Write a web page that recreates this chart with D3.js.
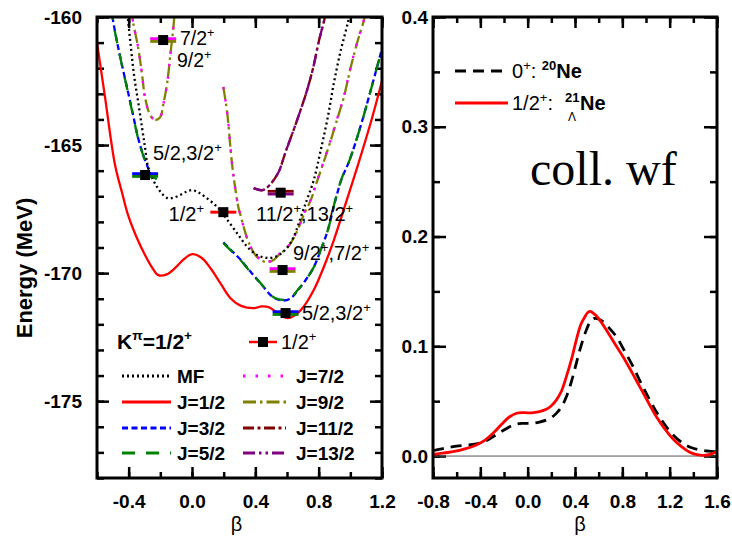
<!DOCTYPE html>
<html>
<head>
<meta charset="utf-8">
<script src="https://cdn.jsdelivr.net/npm/d3@7"></script>
<style>
  body { margin: 0; background: #fff; }
  svg { display: block; }
</style>
</head>
<body>
<svg id="chart" width="732" height="536"></svg>
<script>
// ---------- tick values ----------
const energyMajor = [-175, -170, -165, -160];
const betaMajorL = [-0.4, 0.0, 0.4, 0.8, 1.2];
const betaMajorR = [-0.8, -0.4, 0.0, 0.4, 0.8, 1.2, 1.6];
const wfMajor = [0.0, 0.1, 0.2, 0.3, 0.4];

// ---------- energy surfaces E(beta), MeV ----------
const mfCurve = [[-0.415,-159.5],[-0.404,-160.12],[-0.366,-162.27],[-0.34,-163.32],[-0.315,-164.34],[-0.296,-165.12],
  [-0.277,-165.86],[-0.22,-166.64],[-0.156,-167.07],[-0.115,-167.05],[-0.074,-166.95],[-0.035,-166.82],[0.002,-166.76],
  [0.04,-166.85],[0.084,-167.03],[0.16,-167.42],[0.224,-167.93],[0.294,-168.52],[0.35,-168.98],[0.414,-169.30],
  [0.484,-169.41],[0.547,-169.30],[0.604,-168.98],[0.642,-168.59],[0.699,-167.6],[0.731,-167.05],[0.769,-166.37],
  [0.813,-165.2],[0.858,-163.9],[0.896,-162.58],[0.94,-161.29],[0.984,-160.23],[1.0,-159.7]];

const j1Curve = [[-0.6,-161.0],[-0.55,-163.1],[-0.486,-165.78],[-0.44,-166.9],[-0.404,-167.73],[-0.35,-168.6],
  [-0.296,-169.30],[-0.25,-169.8],[-0.213,-170.08],[-0.16,-170.05],[-0.106,-169.80],[-0.05,-169.45],[0.002,-169.26],
  [0.06,-169.4],[0.116,-169.80],[0.18,-170.4],[0.243,-170.98],[0.31,-171.28],[0.389,-171.37],[0.44,-171.3],
  [0.484,-171.33],[0.54,-171.55],[0.604,-171.76],[0.65,-171.65],[0.70,-171.35],[0.769,-170.66],[0.83,-169.8],
  [0.896,-168.71],[0.97,-167.3],[1.048,-165.78],[1.13,-164.1],[1.2,-162.5]];

const j3Left = [[-0.51,-159.6],[-0.499,-160.12],[-0.473,-160.98],[-0.442,-161.88],[-0.404,-162.93],[-0.372,-163.83],
  [-0.34,-164.73],[-0.308,-165.39],[-0.283,-165.8],[-0.262,-166.15]];
const j3Right = [[0.198,-168.8],[0.256,-169.16],[0.306,-169.47],[0.37,-169.95],[0.433,-170.4],[0.515,-170.95],
  [0.579,-171.07],[0.623,-170.99],[0.667,-170.68],[0.718,-170.27],[0.769,-169.77],[0.813,-169.1],[0.858,-168.32],
  [0.908,-167.1],[0.946,-166.3],[0.991,-165.66],[1.067,-164.22],[1.143,-162.54],[1.206,-161.1]];

const j5Left = [[-0.51,-159.6],[-0.499,-160.14],[-0.473,-161.0],[-0.442,-161.9],[-0.404,-162.95],[-0.372,-163.85],
  [-0.34,-164.75],[-0.308,-165.41],[-0.283,-165.82],[-0.264,-166.17],[-0.232,-166.3],[-0.2,-166.45]];
const j5Right = [[0.198,-168.83],[0.256,-169.18],[0.306,-169.49],[0.37,-169.96],[0.433,-170.39],[0.515,-170.94],
  [0.579,-171.05],[0.623,-170.98],[0.667,-170.66],[0.718,-170.27],[0.769,-169.77],[0.813,-169.1],[0.858,-168.32],
  [0.908,-167.07],[0.946,-166.29],[0.991,-165.66],[1.067,-164.22],[1.143,-162.54],[1.206,-161.1]];

const j7Left = [[-0.385,-159.6],[-0.372,-160.2],[-0.34,-161.2],[-0.315,-162.27],[-0.296,-163.16],[-0.264,-163.83],
  [-0.232,-164.02],[-0.2,-163.9],[-0.182,-163.44],[-0.156,-162.54],[-0.137,-161.48],[-0.118,-160.43],[-0.108,-159.7]];
const j7Right = [[0.198,-162.73],[0.224,-163.83],[0.243,-165.12],[0.256,-165.9],[0.275,-166.76],[0.294,-167.46],
  [0.306,-167.73],[0.332,-168.32],[0.357,-168.79],[0.401,-169.28],[0.446,-169.52],[0.477,-169.56],[0.515,-169.48],
  [0.547,-169.28],[0.61,-168.93],[0.661,-168.38],[0.705,-167.7],[0.75,-167.12],[0.788,-166.42],[0.832,-165.63],
  [0.877,-164.77],[0.921,-163.88],[0.959,-163.1],[1.003,-161.92],[1.048,-160.87],[1.086,-160.1],[1.1,-159.6]];

const j9Left = [[-0.385,-159.6],[-0.372,-160.2],[-0.34,-161.2],[-0.315,-162.27],[-0.296,-163.16],[-0.264,-163.83],
  [-0.232,-164.02],[-0.2,-163.9],[-0.182,-163.44],[-0.156,-162.54],[-0.137,-161.48],[-0.118,-160.43],[-0.108,-159.7]];
const j9Right = [[0.198,-162.73],[0.224,-163.83],[0.243,-165.12],[0.256,-165.9],[0.275,-166.76],[0.294,-167.46],
  [0.306,-167.73],[0.332,-168.32],[0.357,-168.79],[0.401,-169.30],[0.446,-169.53],[0.477,-169.57],[0.515,-169.49],
  [0.547,-169.30],[0.61,-168.95],[0.661,-168.40],[0.705,-167.73],[0.75,-167.15],[0.788,-166.45],[0.832,-165.66],
  [0.877,-164.80],[0.921,-163.91],[0.959,-163.13],[1.003,-161.95],[1.048,-160.90],[1.086,-160.12],[1.1,-159.6]];

const j11Curve = [[0.389,-166.68],[0.446,-166.76],[0.496,-166.52],[0.547,-166.05],[0.591,-165.27],[0.642,-164.41],
  [0.686,-163.63],[0.731,-162.77],[0.769,-161.88],[0.80,-160.98],[0.832,-160.2],[0.851,-159.73]];
const j13Curve = [[0.389,-166.68],[0.446,-166.76],[0.496,-166.52],[0.547,-166.05],[0.591,-165.27],[0.642,-164.41],
  [0.686,-163.63],[0.731,-162.77],[0.769,-161.88],[0.80,-160.98],[0.832,-160.2],[0.851,-159.73]];

// ---------- GCM levels ----------
const levelBeta = [-0.182, -0.296, 0.198, 0.56, 0.572, 0.591];
const levelE = [-160.9, -166.17, -167.62, -166.86, -169.88, -171.56];
const levelJ = [["7/2","9/2"], ["3/2","5/2"], ["1/2"], ["11/2","13/2"], ["7/2","9/2"], ["3/2","5/2"]];

// ---------- collective wave functions ----------
const ne21Wf = [[-0.8,0.0016],[-0.72,0.0026],[-0.631,0.004],[-0.53,0.0065],[-0.434,0.0101],[-0.36,0.0145],
  [-0.293,0.0207],[-0.22,0.029],[-0.152,0.0358],[-0.1,0.0388],[-0.05,0.0396],[0.0,0.0394],[0.05,0.0396],[0.1,0.0405],
  [0.158,0.0426],[0.2,0.0458],[0.242,0.051],[0.285,0.059],[0.327,0.0723],[0.37,0.088],[0.411,0.1057],[0.45,0.12],
  [0.482,0.1266],[0.51,0.131],[0.53,0.1318],[0.55,0.1305],[0.58,0.1278],[0.62,0.1222],[0.665,0.1148],[0.73,0.1035],
  [0.806,0.0905],[0.88,0.0765],[0.947,0.0632],[1.02,0.0488],[1.088,0.0358],[1.16,0.0245],[1.229,0.0155],[1.3,0.0085],
  [1.37,0.0034],[1.43,0.0012],[1.49,0.0006],[1.55,0.0018],[1.6,0.0042]];
const ne20Wf = [[-0.8,0.005],[-0.715,0.0068],[-0.63,0.0085],[-0.53,0.0098],[-0.434,0.011],[-0.36,0.0135],
  [-0.293,0.0176],[-0.22,0.0225],[-0.152,0.0267],[-0.1,0.029],[-0.05,0.0298],[0.0,0.0297],[0.045,0.0298],[0.1,0.031],
  [0.158,0.0328],[0.2,0.035],[0.242,0.0389],[0.285,0.0447],[0.327,0.0541],[0.37,0.068],[0.411,0.0845],[0.45,0.1],
  [0.496,0.1148],[0.53,0.1225],[0.567,0.1255],[0.6,0.1248],[0.637,0.1224],[0.69,0.1165],[0.75,0.1087],[0.82,0.0955],
  [0.891,0.0814],[0.96,0.066],[1.032,0.0511],[1.1,0.038],[1.172,0.0267],[1.24,0.018],[1.313,0.0116],[1.38,0.0078],
  [1.454,0.0055],[1.53,0.0045],[1.6,0.004]];

// ---------- styles ----------
const style = {
  "MF":   {color: "#000000", dash: "2,3"},
  "1/2":  {color: "#ff0000", dash: null},
  "3/2":  {color: "#0000ff", dash: "6,3.5"},
  "5/2":  {color: "#008000", dash: "13,11"},
  "7/2":  {color: "#ff00ff", dash: "2.5,10"},
  "9/2":  {color: "#808000", dash: "13,4,2.5,4"},
  "11/2": {color: "#800000", dash: "11,3.5,3,3.5"},
  "13/2": {color: "#800080", dash: "12,4,2.5,4,2.5,4"}
};

// drawing order: later entries sit on top
const series = [
  {key: "1/2", segs: [j1Curve]},
  {key: "3/2", segs: [j3Left, j3Right]},
  {key: "5/2", segs: [j5Left, j5Right]},
  {key: "9/2", segs: [j9Left, j9Right]},
  {key: "7/2", segs: [j7Left, j7Right]},
  {key: "11/2", segs: [j11Curve]},
  {key: "13/2", segs: [j13Curve]},
  {key: "MF", segs: [mfCurve]}
];

const FONT = "'Liberation Sans', Arial, Helvetica, sans-serif";
const svg = d3.select("#chart").attr("font-family", FONT);

// ---------- layout ----------
const L = {x0: 97, x1: 382, y0: 17, y1: 478};
const R = {x0: 433, x1: 717, y0: 17, y1: 478};

const xL = d3.scaleLinear().domain([-0.6, 1.2]).range([L.x0, L.x1]);
const yL = d3.scaleLinear().domain([-178, -160]).range([L.y1, L.y0]);
const xR = d3.scaleLinear().domain([-0.8, 1.6]).range([R.x0, R.x1]);
const yR = d3.scaleLinear().domain([-0.02, 0.4]).range([R.y1, R.y0]);

const defs = svg.append("defs");
defs.append("clipPath").attr("id", "clipL").append("rect")
  .attr("x", L.x0).attr("y", L.y0).attr("width", L.x1 - L.x0).attr("height", L.y1 - L.y0);
defs.append("clipPath").attr("id", "clipR").append("rect")
  .attr("x", R.x0).attr("y", R.y0).attr("width", R.x1 - R.x0).attr("height", R.y1 - R.y0);

// plain hyphen-minus for negative tick labels
const fmt = f => v => d3.format(f)(v).replace("\u2212", "-");

// ---------- axes helper ----------
function addAxis(axis, tx, ty) {
  const g = svg.append("g").attr("transform", `translate(${tx},${ty})`).call(axis);
  g.select(".domain").remove();
  g.selectAll(".tick line").attr("stroke", "#000").attr("stroke-width", 2.5);
  g.selectAll(".tick text").attr("fill", "#000").attr("font-size", 19)
    .attr("font-weight", "bold").attr("font-family", FONT);
  return g;
}
const minorE = d3.range(-178, -159.5, 1);
const minorBL = d3.range(-0.6, 1.21, 0.2).map(v => +v.toFixed(2));
const minorBR = d3.range(-0.8, 1.61, 0.2).map(v => +v.toFixed(2));
const minorWf = d3.range(0, 0.401, 0.05).map(v => +v.toFixed(2));

// left panel
addAxis(d3.axisLeft(yL).tickValues(minorE).tickSize(-7).tickFormat(""), L.x0, 0);
addAxis(d3.axisLeft(yL).tickValues(energyMajor).tickSize(-12).tickPadding(15).tickFormat(fmt("d")), L.x0, 0);
addAxis(d3.axisRight(yL).tickValues(minorE).tickSize(-7).tickFormat(""), L.x1, 0);
addAxis(d3.axisRight(yL).tickValues(energyMajor).tickSize(-12).tickFormat(""), L.x1, 0);
addAxis(d3.axisBottom(xL).tickValues(minorBL).tickSize(-6).tickFormat(""), 0, L.y1);
addAxis(d3.axisBottom(xL).tickValues(betaMajorL).tickSize(-11).tickPadding(17).tickFormat(fmt(".1f")), 0, L.y1);
addAxis(d3.axisTop(xL).tickValues(minorBL).tickSize(-6).tickFormat(""), 0, L.y0);
addAxis(d3.axisTop(xL).tickValues(betaMajorL).tickSize(-11).tickFormat(""), 0, L.y0);

// right panel
addAxis(d3.axisLeft(yR).tickValues(minorWf).tickSize(-7).tickFormat(""), R.x0, 0);
addAxis(d3.axisLeft(yR).tickValues(wfMajor).tickSize(-13).tickPadding(5).tickFormat(fmt(".1f")), R.x0, 0);
addAxis(d3.axisRight(yR).tickValues(minorWf).tickSize(-7).tickFormat(""), R.x1, 0);
addAxis(d3.axisRight(yR).tickValues(wfMajor).tickSize(-13).tickFormat(""), R.x1, 0);
addAxis(d3.axisBottom(xR).tickValues(minorBR).tickSize(-6).tickFormat(""), 0, R.y1);
addAxis(d3.axisBottom(xR).tickValues(betaMajorR).tickSize(-11).tickPadding(17).tickFormat(fmt(".1f")), 0, R.y1);
addAxis(d3.axisTop(xR).tickValues(minorBR).tickSize(-6).tickFormat(""), 0, R.y0);
addAxis(d3.axisTop(xR).tickValues(betaMajorR).tickSize(-11).tickFormat(""), 0, R.y0);

// ---------- energy curves ----------
const lineL = d3.line().x(d => xL(d[0])).y(d => yL(d[1])).curve(d3.curveCatmullRom.alpha(0.5));
const gCurves = svg.append("g").attr("clip-path", "url(#clipL)");
series.forEach(s => {
  const st = style[s.key];
  s.segs.forEach(seg => {
    gCurves.append("path").attr("d", lineL(seg))
      .attr("fill", "none").attr("stroke", st.color).attr("stroke-width", 2.3)
      .attr("stroke-dasharray", st.dash);
  });
});

// ---------- GCM level markers ----------
const gLev = svg.append("g");
const barHalf = 0.082;
levelBeta.forEach((b, i) => {
  const js = levelJ[i];
  const yc = yL(levelE[i]);
  js.forEach((j, k) => {
    const off = js.length === 1 ? 0 : (k === 0 ? -1.4 : 1.4);
    gLev.append("line")
      .attr("x1", xL(b - barHalf)).attr("x2", xL(b + barHalf))
      .attr("y1", yc + off).attr("y2", yc + off)
      .attr("stroke", style[j].color).attr("stroke-width", js.length === 1 ? 3 : 2.8);
  });
  gLev.append("rect").attr("x", xL(b) - 5).attr("y", yc - 5).attr("width", 10).attr("height", 10).attr("fill", "#000");
});

// ---------- text helper with superscripts (^x) ----------
function richText(g, x, y, str, size, weight, anchor) {
  const t = g.append("text").attr("x", x).attr("y", y).attr("font-size", size)
    .attr("font-weight", weight || "normal").attr("text-anchor", anchor || "start").attr("fill", "#000");
  const tokens = str.split(/(\^.)/).filter(s => s.length);
  let shifted = false;
  tokens.forEach(tok => {
    if (tok[0] === "^") {
      t.append("tspan").attr("dy", shifted ? 0 : -size * 0.42).attr("font-size", size * 0.65).text(tok.slice(1));
      shifted = true;
    } else {
      t.append("tspan").attr("dy", shifted ? size * 0.42 : 0).text(tok);
      shifted = false;
    }
  });
  return t;
}

const gTxt = svg.append("g");
richText(gTxt, 180, 45, "7/2^+", 19.5);
richText(gTxt, 177, 67, "9/2^+", 19.5);
richText(gTxt, 153, 160, "5/2,3/2^+", 20);
richText(gTxt, 204, 221, "1/2^+", 20, "normal", "end");
richText(gTxt, 256, 221, "11/2^+,13/2^+", 20);
richText(gTxt, 293, 260, "9/2^+,7/2^+", 20);
richText(gTxt, 302, 320, "5/2,3/2^+", 20);

// ---------- left legend ----------
richText(gTxt, 117, 349, "K^π=1/2^+", 21, "bold");
gTxt.append("line").attr("x1", 249).attr("x2", 277).attr("y1", 342).attr("y2", 342)
  .attr("stroke", style["1/2"].color).attr("stroke-width", 2.5);
gTxt.append("rect").attr("x", 258).attr("y", 337).attr("width", 10).attr("height", 10).attr("fill", "#000");
richText(gTxt, 281, 349, "1/2^+", 20);

const legendLeft = ["MF", "1/2", "3/2", "5/2"];
const legendRight = ["7/2", "9/2", "11/2", "13/2"];
const rowY = [376, 402, 428, 453];
function legendRow(key, x0, x1, tx, y) {
  const st = style[key];
  gTxt.append("line").attr("x1", x0).attr("x2", x1).attr("y1", y).attr("y2", y)
    .attr("stroke", st.color).attr("stroke-width", 2.8).attr("stroke-dasharray", st.dash);
  gTxt.append("text").attr("x", tx).attr("y", y + 7).attr("font-size", 19).attr("font-weight", "bold")
    .text(key === "MF" ? "MF" : "J=" + key);
}
legendLeft.forEach((k, i) => legendRow(k, 122, 171, 177, rowY[i]));
legendRight.forEach((k, i) => legendRow(k, 243, 286, 296, rowY[i]));

// ---------- axis titles ----------
svg.append("text").attr("transform", "translate(32,268) rotate(-90)").attr("text-anchor", "middle")
  .attr("font-size", 22).attr("font-weight", "bold").text("Energy (MeV)");
svg.append("text").attr("x", (L.x0 + L.x1) / 2 - 3).attr("y", 531).attr("text-anchor", "middle")
  .attr("font-size", 20).text("β");
svg.append("text").attr("x", (R.x0 + R.x1) / 2 + 5).attr("y", 531).attr("text-anchor", "middle")
  .attr("font-size", 20).text("β");

// ---------- right panel curves ----------
const lineR = d3.line().x(d => xR(d[0])).y(d => yR(d[1])).curve(d3.curveCatmullRom.alpha(0.5));
const gR = svg.append("g").attr("clip-path", "url(#clipR)");
gR.append("line").attr("x1", R.x0).attr("x2", R.x1).attr("y1", yR(0)).attr("y2", yR(0))
  .attr("stroke", "#555").attr("stroke-width", 1);
gR.append("path").attr("d", lineR(ne20Wf)).attr("fill", "none").attr("stroke", "#000")
  .attr("stroke-width", 2.8).attr("stroke-dasharray", "11,7");
gR.append("path").attr("d", lineR(ne21Wf)).attr("fill", "none").attr("stroke", "#ff0000")
  .attr("stroke-width", 2.8);

// right legend
const gRL = svg.append("g");
gRL.append("line").attr("x1", 455).attr("x2", 508).attr("y1", 71).attr("y2", 71)
  .attr("stroke", "#000").attr("stroke-width", 2.8).attr("stroke-dasharray", "11,7");
gRL.append("line").attr("x1", 455).attr("x2", 508).attr("y1", 103).attr("y2", 103)
  .attr("stroke", "#ff0000").attr("stroke-width", 2.8);
const t1 = gRL.append("text").attr("x", 512).attr("y", 78).attr("font-size", 20);
t1.append("tspan").text("0");
t1.append("tspan").attr("dy", -8).attr("font-size", 13).text("+");
t1.append("tspan").attr("dy", 8).text(": ");
t1.append("tspan").attr("dy", -8).attr("font-size", 13).attr("font-weight", "bold").text("20");
t1.append("tspan").attr("dy", 8).attr("font-weight", "bold").text("Ne");
const t2 = gRL.append("text").attr("x", 512).attr("y", 110).attr("font-size", 20);
t2.append("tspan").text("1/2");
t2.append("tspan").attr("dy", -8).attr("font-size", 13).text("+");
t2.append("tspan").attr("dy", 8).text(":");
gRL.append("text").attr("x", 565).attr("y", 102).attr("font-size", 13).attr("font-weight", "bold").text("21");
gRL.append("text").attr("x", 572).attr("y", 121).attr("font-size", 12).attr("text-anchor", "middle").text("Λ");
gRL.append("text").attr("x", 580).attr("y", 110).attr("font-size", 20).attr("font-weight", "bold").text("Ne");

svg.append("text").attr("x", 530).attr("y", 185).attr("font-size", 48)
  .attr("font-family", "'Liberation Serif', 'Times New Roman', serif").text("coll. wf");

// ---------- frames ----------
[L, R].forEach(p => {
  svg.append("rect").attr("x", p.x0).attr("y", p.y0).attr("width", p.x1 - p.x0).attr("height", p.y1 - p.y0)
    .attr("fill", "none").attr("stroke", "#000").attr("stroke-width", 3);
});
</script>
</body>
</html>
